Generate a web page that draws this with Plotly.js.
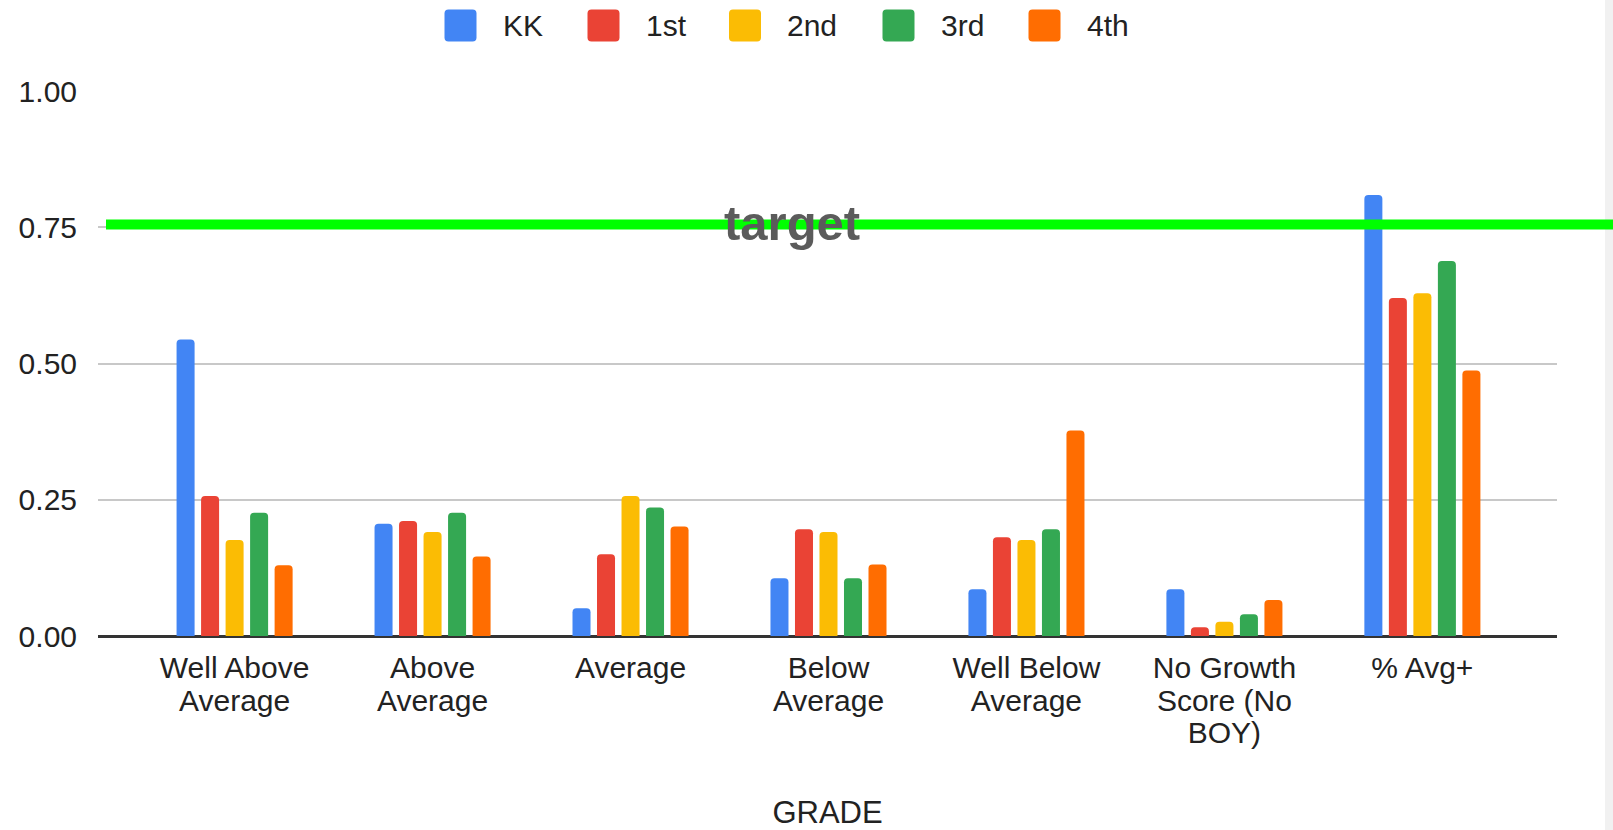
<!DOCTYPE html>
<html>
<head>
<meta charset="utf-8">
<script src="https://cdn.plot.ly/plotly-3.0.1.min.js"></script>
<style>
html,body{margin:0;padding:0;background:#fff;}
#chart{width:1613px;height:830px;}
</style>
</head>
<body>
<div id="chart"></div>
<script>
// ---- data ----
const categories = ['Well Above<br>Average', 'Above<br>Average', 'Average', 'Below<br>Average', 'Well Below<br>Average', 'No Growth<br>Score (No<br>BOY)', '% Avg+'];
const seriesNames = ['KK', '1st', '2nd', '3rd', '4th'];
const seriesColors = ['#4285F4', '#EA4335', '#FBBC04', '#34A853', '#FF6D01'];
const kkValues = [0.544, 0.206, 0.051, 0.106, 0.086, 0.086, 0.809];
const firstValues = [0.257, 0.211, 0.150, 0.196, 0.181, 0.016, 0.620];
const secondValues = [0.176, 0.191, 0.257, 0.191, 0.176, 0.026, 0.629];
const thirdValues = [0.226, 0.226, 0.236, 0.106, 0.196, 0.040, 0.688];
const fourthValues = [0.130, 0.146, 0.201, 0.131, 0.377, 0.066, 0.487];
const targetValue = 0.755;
const targetLabel = 'target';
const yTickVals = [0, 0.25, 0.5, 0.75, 1];
const yTickText = ['0.00', '0.25', '0.50', '0.75', '1.00'];
const xAxisTitle = 'GRADE';

// ---- layout geometry (pixels) ----
const W = 1613, H = 830;
const M = {l: 98, r: 56, t: 91, b: 194};
const plotW = W - M.l - M.r, plotH = H - M.t - M.b;
const px2x = p => (p - M.l) / plotW;
const py2y = p => (H - M.b - p) / plotH;
const FONT = '"Liberation Sans", Arial, sans-serif';

const allValues = [kkValues, firstValues, secondValues, thirdValues, fourthValues];
const traces = allValues.map((vals, i) => ({
  type: 'bar',
  name: seriesNames[i],
  x: categories,
  y: vals,
  marker: {color: seriesColors[i], cornerradius: 4},
  hoverinfo: 'x+y+name',
  showlegend: false
}));

// tick labels: 30px glyphs with tighter line spacing
const xTickText = categories.map(c => c.split('<br>')
  .map(line => '<span style="font-size:30px">' + line + '</span>').join('<br>'));

// custom legend (large rounded squares)
const legendSquareX = [444.5, 587.5, 729, 882.5, 1028.5];
const legendTextGap = 24;
const sq = 32, rad = 4, legendCY = 25.5;
const shapes = [];
const annotations = [];
seriesNames.forEach((name, i) => {
  const x0 = legendSquareX[i], x1 = x0 + sq, y0 = legendCY - sq / 2, y1 = legendCY + sq / 2;
  const X = px2x, Y = py2y;
  const path = `M ${X(x0 + rad)} ${Y(y0)} L ${X(x1 - rad)} ${Y(y0)} Q ${X(x1)} ${Y(y0)} ${X(x1)} ${Y(y0 + rad)} ` +
    `L ${X(x1)} ${Y(y1 - rad)} Q ${X(x1)} ${Y(y1)} ${X(x1 - rad)} ${Y(y1)} ` +
    `L ${X(x0 + rad)} ${Y(y1)} Q ${X(x0)} ${Y(y1)} ${X(x0)} ${Y(y1 - rad)} ` +
    `L ${X(x0)} ${Y(y0 + rad)} Q ${X(x0)} ${Y(y0)} ${X(x0 + rad)} ${Y(y0)} Z`;
  shapes.push({type: 'path', xref: 'paper', yref: 'paper', path: path,
    fillcolor: seriesColors[i], line: {width: 0}, layer: 'above'});
  annotations.push({xref: 'paper', yref: 'paper', x: X(x1 + legendTextGap), y: Y(legendCY),
    xanchor: 'left', yanchor: 'middle', showarrow: false, text: name,
    font: {family: FONT, size: 30, color: '#222222'}});
});

// right-edge light strip
shapes.push({type: 'rect', xref: 'paper', yref: 'paper', x0: px2x(1605), x1: px2x(1613), y0: py2y(830), y1: py2y(0),
  fillcolor: '#f1f1f1', line: {width: 0}, layer: 'below'});

// target line
shapes.push({type: 'line', xref: 'paper', yref: 'y', x0: px2x(106), x1: px2x(1613), y0: targetValue, y1: targetValue,
  line: {color: '#00ff00', width: 10}, layer: 'above'});
annotations.push({xref: 'paper', yref: 'y', x: px2x(792), y: targetValue, xanchor: 'center', yanchor: 'middle',
  yshift: 2, showarrow: false, text: '<b>' + targetLabel + '</b>',
  font: {family: FONT, size: 49, color: '#5b5b5b'}});

const layout = {
  width: W, height: H,
  margin: M,
  paper_bgcolor: '#ffffff', plot_bgcolor: '#ffffff',
  font: {family: FONT, size: 30, color: '#222222'},
  barmode: 'group',
  bargap: 0.381,
  bargroupgap: 0.265,
  showlegend: false,
  xaxis: {
    type: 'category',
    range: [-0.69, 6.68],
    tickvals: categories, ticktext: xTickText,
    showgrid: false, zeroline: false, showline: false,
    ticks: 'outside', ticklen: 11, tickcolor: 'rgba(0,0,0,0)',
    tickfont: {family: FONT, size: 25, color: '#222222'},
    title: {text: xAxisTitle, font: {family: FONT, size: 31, color: '#222222'}, standoff: 71},
    automargin: false, fixedrange: true
  },
  yaxis: {
    range: [0, 1],
    tickvals: yTickVals, ticktext: yTickText,
    showgrid: true, gridcolor: '#c8c8c8', gridwidth: 2,
    zeroline: true, zerolinecolor: '#333333', zerolinewidth: 3,
    showline: false,
    ticks: 'outside', ticklen: 14, tickcolor: 'rgba(0,0,0,0)',
    tickfont: {family: FONT, size: 30, color: '#222222'},
    automargin: false, fixedrange: true
  },
  shapes: shapes,
  annotations: annotations
};

Plotly.newPlot('chart', traces, layout, {displayModeBar: false, staticPlot: true});
</script>
</body>
</html>
